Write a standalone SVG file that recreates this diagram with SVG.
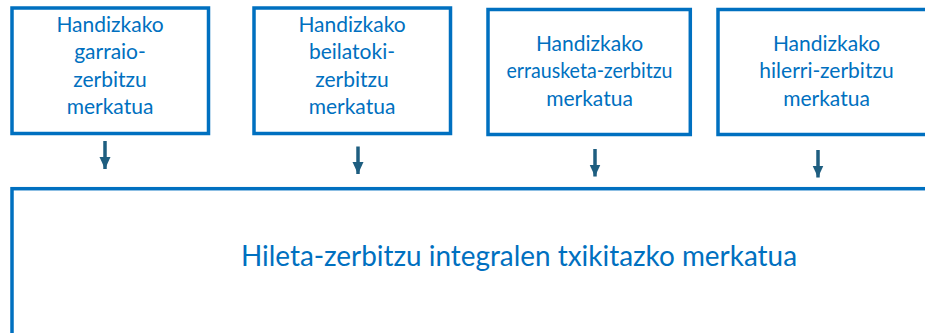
<svg xmlns="http://www.w3.org/2000/svg" width="925" height="333" viewBox="0 0 925 333">
<style>
.box{fill:#ffffff;stroke:#0070C0;stroke-width:3.5}
.t{font-family:Lato,"Liberation Sans",sans-serif;fill:#0070C0;text-anchor:middle;font-size:21px}
.big{font-size:28px}
.conn{stroke:#1E5E80;stroke-width:3.5;fill:none}
</style>
<defs>
<marker id="ah" viewBox="0 0 12 12" refX="12" refY="6" markerWidth="12" markerHeight="12" markerUnits="userSpaceOnUse" orient="auto">
<polygon points="0,0.5 12,6 0,11.5" fill="#1E5E80"/>
</marker>
</defs>
<rect width="925" height="333" fill="#ffffff"/>
<g id="node-retail">
<rect class="box" x="12" y="188.7" width="930" height="160"/>
<text class="t big" x="519" y="266" textLength="556" lengthAdjust="spacingAndGlyphs">Hileta-zerbitzu integralen txikitazko merkatua</text>
</g>
<g id="node-transport">
<rect class="box" x="12" y="8" width="196.5" height="125.5"/>
<text class="t" x="110" y="31.5">Handizkako</text>
<text class="t" x="110" y="59">garraio-</text>
<text class="t" x="110" y="86.5">zerbitzu</text>
<text class="t" x="110" y="113.5">merkatua</text>
</g>
<g id="node-morgue">
<rect class="box" x="254" y="8" width="196.5" height="125.5"/>
<text class="t" x="352" y="31.5">Handizkako</text>
<text class="t" x="352" y="59">beilatoki-</text>
<text class="t" x="352" y="86.5">zerbitzu</text>
<text class="t" x="352" y="113.5">merkatua</text>
</g>
<g id="node-cremation">
<rect class="box" x="488" y="9.5" width="202.3" height="125"/>
<text class="t" x="589.5" y="50.5">Handizkako</text>
<text class="t" x="589.5" y="78" textLength="166" lengthAdjust="spacingAndGlyphs">errausketa-zerbitzu</text>
<text class="t" x="589.5" y="105.5">merkatua</text>
</g>
<g id="node-cemetery">
<rect class="box" x="718" y="9.5" width="217" height="125"/>
<text class="t" x="826.5" y="50.5">Handizkako</text>
<text class="t" x="826.5" y="78">hilerri-zerbitzu</text>
<text class="t" x="826.5" y="105.5">merkatua</text>
</g>
<g id="connectors">
<line class="conn" x1="105" y1="141" x2="105" y2="169" marker-end="url(#ah)"/>
<line class="conn" x1="358" y1="146.5" x2="358" y2="174" marker-end="url(#ah)"/>
<line class="conn" x1="595" y1="149" x2="595" y2="176.5" marker-end="url(#ah)"/>
<line class="conn" x1="818" y1="150" x2="818" y2="177.5" marker-end="url(#ah)"/>
</g>
</svg>
